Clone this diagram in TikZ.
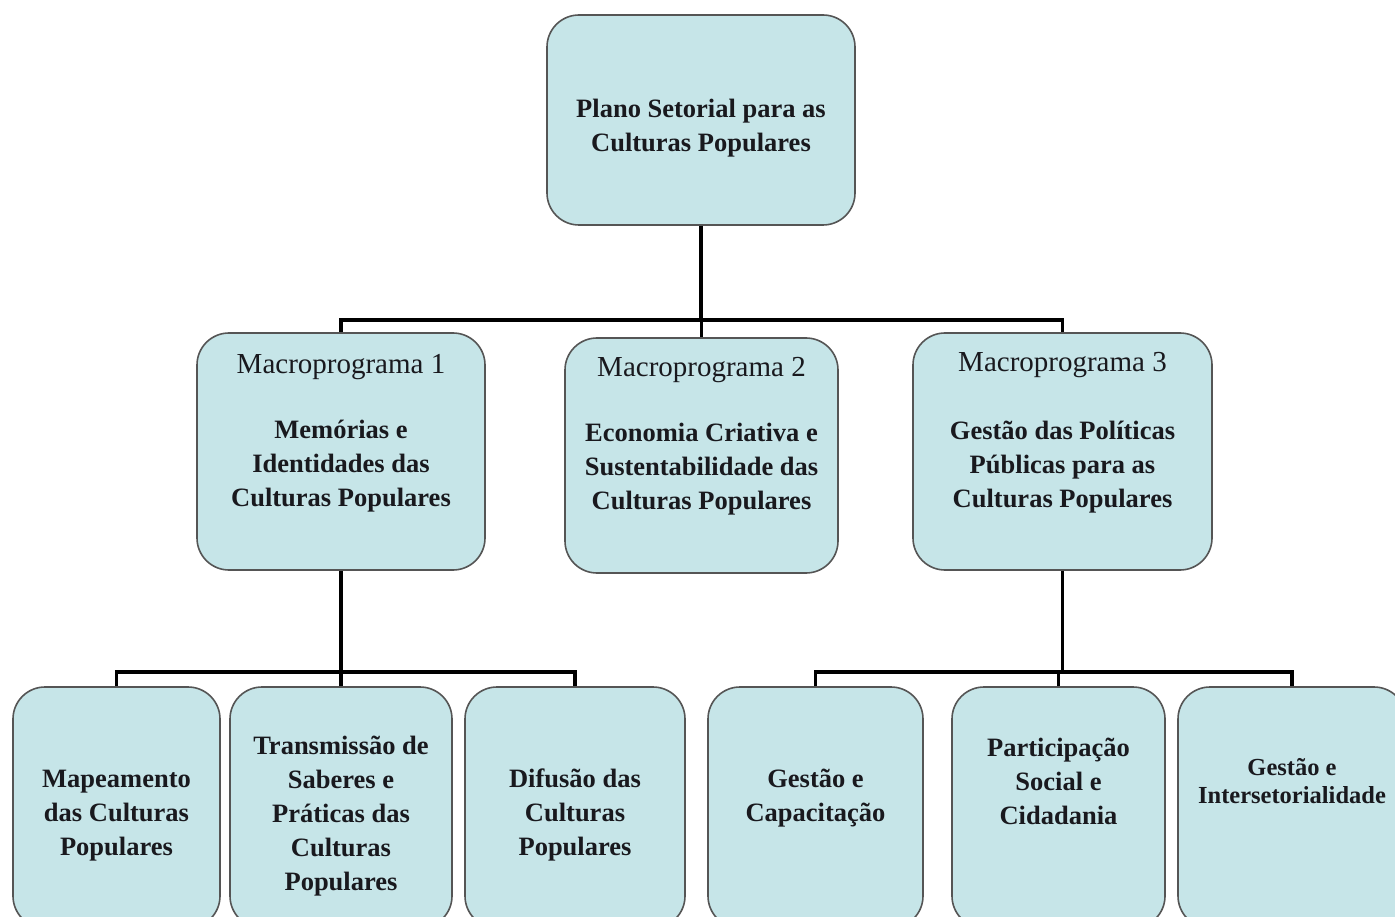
\documentclass[tikz,border=0pt]{standalone}
\usepackage{fontspec}
\setmainfont{Liberation Serif}
\definecolor{boxfill}{RGB}{198,229,232}
\definecolor{boxline}{RGB}{85,85,85}
\definecolor{txt}{RGB}{25,25,30}
\begin{document}
\begin{tikzpicture}[x=1pt,y=-1pt,
  box/.style={draw=boxline, line width=1.6pt, fill=boxfill, rounded corners=32pt, inner sep=0pt},
  conn/.style={line width=3.6pt, draw=black},
  bt/.style={font=\fontsize{26.5}{34}\selectfont\bfseries, align=center, text=txt, inner sep=0pt},
  bts/.style={font=\fontsize{24.5}{28}\selectfont\bfseries, align=center, text=txt, inner sep=0pt},
  rt/.style={font=\fontsize{29}{34}\selectfont, align=center, text=txt, inner sep=0pt}]
\useasboundingbox (0,0) rectangle (1395,917);
\clip (0,0) rectangle (1395,917);
\fill[white] (0,0) rectangle (1395,917);
% boxes
\node[box, minimum width=308pt, minimum height=210pt] (top) at (701,120) {};
\node[box, minimum width=288pt, minimum height=237pt] (m1) at (341,451.5) {};
\node[box, minimum width=273pt, minimum height=235pt] (m2) at (701.5,455.5) {};
\node[box, minimum width=299pt, minimum height=237pt] (m3) at (1062.5,451.5) {};
\node[box, minimum width=207pt, minimum height=241pt] (b1) at (116.5,807.5) {};
\node[box, minimum width=222pt, minimum height=241pt] (b2) at (341,807.5) {};
\node[box, minimum width=220pt, minimum height=241pt] (b3) at (575,807.5) {};
\node[box, minimum width=215pt, minimum height=241pt] (b4) at (815.5,807.5) {};
\node[box, minimum width=213pt, minimum height=241pt] (b5) at (1058.5,807.5) {};
\node[box, minimum width=228pt, minimum height=241pt] (b6) at (1292,807.5) {};
% texts
\node[bt] (ttop) at (701,128) {Plano Setorial para as\\Culturas Populares};
\node[rt] (tm1a) at (341,367) {Macroprograma 1};
\node[bt] (tm1b) at (341,466) {Memórias e\\Identidades das\\Culturas Populares};
\node[rt] (tm2a) at (701.5,370) {Macroprograma 2};
\node[bt] (tm2b) at (701.5,469) {Economia Criativa e\\Sustentabilidade das\\Culturas Populares};
\node[rt] (tm3a) at (1062.5,365) {Macroprograma 3};
\node[bt] (tm3b) at (1062.5,467) {Gestão das Políticas\\Públicas para as\\Culturas Populares};
\node[bt] (tb1) at (116.5,816) {Mapeamento\\das Culturas\\Populares};
\node[bt] (tb2) at (341,816) {Transmissão de\\Saberes e\\Práticas das\\Culturas\\Populares};
\node[bt] (tb3) at (575,815) {Difusão das\\Culturas\\Populares};
\node[bt] (tb4) at (815.5,798.5) {Gestão e\\Capacitação};
\node[bt] (tb5) at (1058.5,781.5) {Participação\\Social e\\Cidadania};
\node[bts] (tb6) at (1292,781.5) {Gestão e\\Intersetorialidade};
% connectors
\coordinate (bus1) at (701,320);
\coordinate (bus2) at (341,672);
\coordinate (bus3) at (1062,672);
\draw[conn] (top.south) -- (top.south |- bus1);
\draw[conn] (m1.north) -- (m1.north |- bus1) -- (m3.north |- bus1) -- (m3.north);
\draw[conn] (m2.north) -- (m2.north |- bus1);
\draw[conn] (m1.south) -- (m1.south |- bus2);
\draw[conn] (b1.north) -- (b1.north |- bus2) -- (b3.north |- bus2) -- (b3.north);
\draw[conn] (b2.north) -- (b2.north |- bus2);
\draw[conn] (m3.south) -- (m3.south |- bus3);
\draw[conn] (b4.north) -- (b4.north |- bus3) -- (b6.north |- bus3) -- (b6.north);
\draw[conn] (b5.north) -- (b5.north |- bus3);
\end{tikzpicture}
\end{document}
